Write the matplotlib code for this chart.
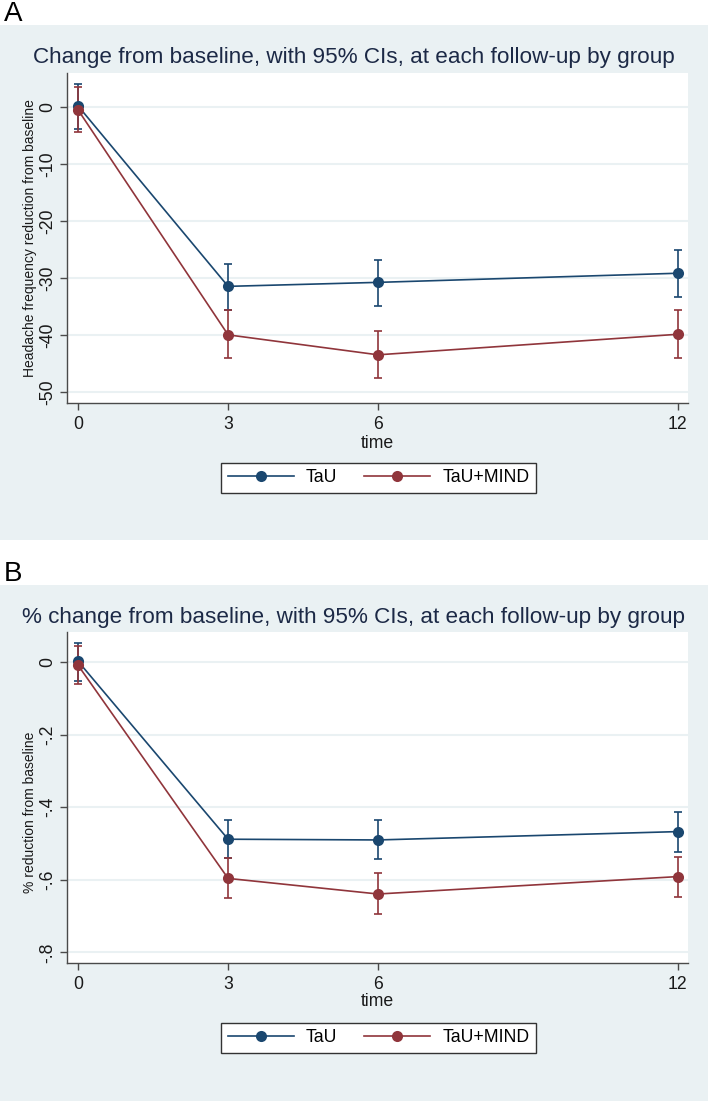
import matplotlib
matplotlib.use('Agg')
import matplotlib.pyplot as plt
from matplotlib.patches import Rectangle
from matplotlib.lines import Line2D
import numpy as np

plt.rcParams['font.family'] = ['Liberation Sans', 'DejaVu Sans']
plt.rcParams['axes.unicode_minus'] = False

# ---------------- data ----------------
time = [0, 3, 6, 12]
groups = ['TaU', 'TaU+MIND']

a_tau = [0.2, -31.4, -30.7, -29.1]
a_tau_lo = [-3.8, -35.5, -34.8, -33.2]
a_tau_hi = [4.1, -27.4, -26.8, -25.0]
a_mind = [-0.5, -39.9, -43.4, -39.8]
a_mind_lo = [-4.4, -43.9, -47.5, -43.9]
a_mind_hi = [3.5, -35.6, -39.2, -35.6]

b_tau = [0.002, -0.488, -0.490, -0.467]
b_tau_lo = [-0.052, -0.541, -0.543, -0.522]
b_tau_hi = [0.052, -0.435, -0.435, -0.413]
b_mind = [-0.009, -0.596, -0.639, -0.591]
b_mind_lo = [-0.061, -0.649, -0.694, -0.647]
b_mind_hi = [0.045, -0.541, -0.582, -0.536]

a_yticks = [0, -10, -20, -30, -40, -50]
a_yticklabels = ['0', '-10', '-20', '-30', '-40', '-50']
b_yticks = [0, -0.2, -0.4, -0.6, -0.8]
b_yticklabels = ['0', '-.2', '-.4', '-.6', '-.8']

a_title = 'Change from baseline, with 95% CIs, at each follow-up by group'
b_title = '% change from baseline, with 95% CIs, at each follow-up by group'
a_ylabel = 'Headache frequency reduction from baseline'
b_ylabel = '% reduction from baseline'
xlabel = 'time'

# ---------------- style ----------------
W, H = 708, 1101
BG = '#EAF1F3'
GRID = '#EAF1F3'
BLUE = '#1a476f'
RED = '#90353b'
AXC = '#4a4a4a'
TXT = '#1a1a1a'
TITLEC = '#1c2946'
FS = 12.7


def fx(x):
    return x / W


def fy(y):
    return 1 - y / H


fig = plt.figure(figsize=(W / 100, H / 100), dpi=100)
fig.patch.set_facecolor('white')

# panel backgrounds
fig.patches.append(Rectangle((0, fy(540)), 1, fy(25) - fy(540),
                             transform=fig.transFigure, facecolor=BG,
                             edgecolor='none', zorder=-10))
fig.patches.append(Rectangle((0, fy(1101)), 1, fy(585) - fy(1101),
                             transform=fig.transFigure, facecolor=BG,
                             edgecolor='none', zorder=-10))

# panel letters
fig.text(fx(4), fy(14), 'A', fontsize=20, ha='left', va='center', color='black')
fig.text(fx(4), fy(574), 'B', fontsize=20, ha='left', va='center', color='black')


def make_panel(top, bottom, ylim, yticks, yticklabels, series, title, title_y,
               ylabel, ylabel_y, xlabel_y, legend_y):
    left, right = 66.7, 688.3
    ax = fig.add_axes([fx(left), fy(bottom), fx(right) - fx(left), fy(top) - fy(bottom)])
    ax.set_zorder(1)
    ax.set_facecolor('white')
    ax.set_xlim(-0.23, 12.21)
    ax.set_ylim(*ylim)
    for s in ['top', 'right']:
        ax.spines[s].set_visible(False)
    for s in ['left', 'bottom']:
        ax.spines[s].set_color(AXC)
        ax.spines[s].set_linewidth(1.0)
    ax.set_xticks(time)
    ax.set_xticklabels([str(t) for t in time])
    ax.set_yticks(yticks)
    ax.set_yticklabels(yticklabels, rotation=90, va='center')
    ax.tick_params(axis='both', direction='out', length=5, width=1.0, color=AXC,
                   labelsize=FS, labelcolor=TXT)
    ax.tick_params(axis='x', pad=4)
    ax.tick_params(axis='y', pad=2.4)
    ax.yaxis.grid(True, color=GRID, linewidth=1.5, zorder=0)
    ax.set_axisbelow(True)

    for vals, lo, hi, col in series:
        vals = np.array(vals)
        lo = np.array(lo)
        hi = np.array(hi)
        ax.errorbar(time, vals, yerr=[vals - lo, hi - vals], fmt='none',
                    ecolor=col, elinewidth=1.2, capsize=3.2, capthick=1.2,
                    zorder=3)
        ax.plot(time, vals, color=col, linewidth=1.2, marker='o',
                markersize=8, markeredgewidth=0, zorder=4)

    fig.text(fx(354), fy(title_y), title, ha='center', va='center',
             fontsize=16.2, color=TITLEC)
    fig.text(fx(30), fy(ylabel_y), ylabel, ha='center', va='center',
             rotation=90, fontsize=10, color=TXT)
    fig.text(fx(377.5), fy(xlabel_y), xlabel, ha='center', va='center',
             fontsize=FS, color=TXT)

    handles = [Line2D([], [], color=BLUE, linewidth=1.2, marker='o',
                      markersize=8, markeredgewidth=0),
               Line2D([], [], color=RED, linewidth=1.2, marker='o',
                      markersize=8, markeredgewidth=0)]
    leg = fig.legend(handles, groups, loc='center',
                     bbox_to_anchor=(fx(378.5), fy(legend_y)), ncol=2,
                     frameon=True, fancybox=False, framealpha=1,
                     edgecolor='#333333', fontsize=FS, handlelength=3.75,
                     handletextpad=0.68, columnspacing=1.53, borderpad=0.35,
                     numpoints=1)
    leg.get_frame().set_linewidth(1.0)
    return ax


make_panel(73.3, 403.3, (-51.9, 5.95), a_yticks, a_yticklabels,
           [(a_tau, a_tau_lo, a_tau_hi, BLUE), (a_mind, a_mind_lo, a_mind_hi, RED)],
           a_title, 58, a_ylabel, 238, 443, 478)

make_panel(631.7, 963.3, (-0.830, 0.084), b_yticks, b_yticklabels,
           [(b_tau, b_tau_lo, b_tau_hi, BLUE), (b_mind, b_mind_lo, b_mind_hi, RED)],
           b_title, 618, b_ylabel, 812, 1002, 1038)

fig.savefig('out.png', dpi=100, facecolor='white')
